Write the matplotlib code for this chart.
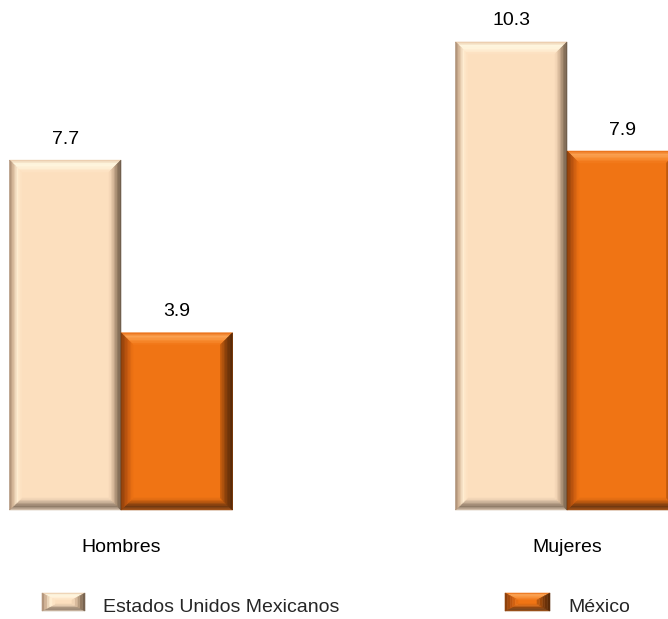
import matplotlib
matplotlib.use("Agg")
import matplotlib.pyplot as plt
from matplotlib.patches import Polygon
from matplotlib.transforms import IdentityTransform

plt.rcParams["font.family"] = ["Liberation Sans", "DejaVu Sans"]

categories = ["Hombres", "Mujeres"]
series = ["Estados Unidos Mexicanos", "México"]
eum = [7.7, 10.3]
mex = [3.9, 7.9]

# bevel colours: outer -> inner, per side
STYLES = {
    "eum": {
        "face": (252, 223, 190),
        "top": [(232, 198, 165), (255, 248, 226), (255, 240, 214), (252, 223, 190)],
        "bottom": [(222, 202, 182), (140, 120, 100), (200, 175, 150), (252, 223, 190)],
        "left": [(165, 135, 110), (215, 185, 155), (255, 238, 210), (252, 223, 190)],
        "right": [(105, 88, 72), (150, 125, 100), (212, 182, 152), (252, 223, 190)],
    },
    "mex": {
        "face": (240, 116, 20),
        "top": [(232, 108, 18), (252, 165, 85), (248, 140, 50), (240, 116, 20)],
        "bottom": [(170, 90, 30), (110, 55, 15), (180, 85, 15), (240, 116, 20)],
        "left": [(130, 60, 10), (190, 85, 15), (240, 116, 20)],
        "right": [(80, 38, 8), (125, 58, 10), (200, 95, 15)],
    },
}


def rgb(c):
    return tuple(v / 255 for v in c)


def interp(stops, t):
    n = len(stops) - 1
    pos = t * n
    i = min(int(pos), n - 1)
    f = pos - i
    a, b = stops[i], stops[i + 1]
    return tuple((a[k] + (b[k] - a[k]) * f) / 255 for k in range(3))


def bevel(fig, x0, y0, x1, y1, style, bw, bh, steps=8):
    # corners in display pixels, y up
    ident = IdentityTransform()
    for side in ("top", "bottom", "left", "right"):
        for i in range(steps):
            f1, f2 = i / steps, (i + 1) / steps
            c = interp(style[side], (i + 0.5) / steps)
            if side == "left":
                pts = [(x0 + f1 * bw, y0 + f1 * bh), (x0 + f2 * bw, y0 + f2 * bh),
                       (x0 + f2 * bw, y1 - f2 * bh), (x0 + f1 * bw, y1 - f1 * bh)]
            elif side == "right":
                pts = [(x1 - f1 * bw, y0 + f1 * bh), (x1 - f2 * bw, y0 + f2 * bh),
                       (x1 - f2 * bw, y1 - f2 * bh), (x1 - f1 * bw, y1 - f1 * bh)]
            elif side == "top":
                pts = [(x0 + f1 * bw, y1 - f1 * bh), (x1 - f1 * bw, y1 - f1 * bh),
                       (x1 - f2 * bw, y1 - f2 * bh), (x0 + f2 * bw, y1 - f2 * bh)]
            else:
                pts = [(x0 + f1 * bw, y0 + f1 * bh), (x1 - f1 * bw, y0 + f1 * bh),
                       (x1 - f2 * bw, y0 + f2 * bh), (x0 + f2 * bw, y0 + f2 * bh)]
            fig.add_artist(Polygon(pts, closed=True, facecolor=c, edgecolor=c,
                                   lw=0.4, transform=ident, zorder=3))


W, H = 668, 619
fig = plt.figure(figsize=(W / 100, H / 100), dpi=100)
ax = fig.add_axes([0, 1 - 510 / H, 1, 510 / H])
ax.set_xlim(-121 / 446, 547 / 446)
ax.set_ylim(0, 510 / 45.44)
ax.axis("off")

x = [0, 1]
width = 0.25
for vals, key, off in ((eum, "eum", -width / 2), (mex, "mex", width / 2)):
    st = STYLES[key]
    bars = ax.bar([g + off for g in x], vals, width, color=rgb(st["face"]), zorder=2)
    for b, v in zip(bars, vals):
        (px0, py0), (px1, py1) = ax.transData.transform(
            [(b.get_x(), 0), (b.get_x() + b.get_width(), b.get_height())])
        bevel(fig, px0, py0, px1, py1, st, 12, 12)
        ax.annotate(f"{v:.1f}", (b.get_x() + b.get_width() / 2, v),
                    xytext=(0, 21), textcoords="offset pixels",
                    ha="center", va="center", fontsize=14, color="black")

for g, name in zip(x, categories):
    ax.annotate(name, (g, 0), xytext=(0, -38), textcoords="offset pixels",
                ha="center", va="center", fontsize=14, color="black")

# legend
legend_items = [(42, 85, 103, "eum"), (505, 550, 568, "mex")]
for (sx0, sx1, tx, key), label in zip(legend_items, series):
    bevel(fig, sx0, H - 611, sx1, H - 593, STYLES[key], 13, 7, steps=5)
    fig.add_artist(Polygon([(sx0 + 13, H - 604), (sx1 - 13, H - 604),
                            (sx1 - 13, H - 600), (sx0 + 13, H - 600)],
                           facecolor=rgb(STYLES[key]["face"]), lw=0,
                           transform=IdentityTransform(), zorder=2))
    fig.text(tx / W, 1 - 607 / H, label, ha="left", va="center",
             fontsize=14, color="#262626")

fig.savefig("out.png", dpi=100)
